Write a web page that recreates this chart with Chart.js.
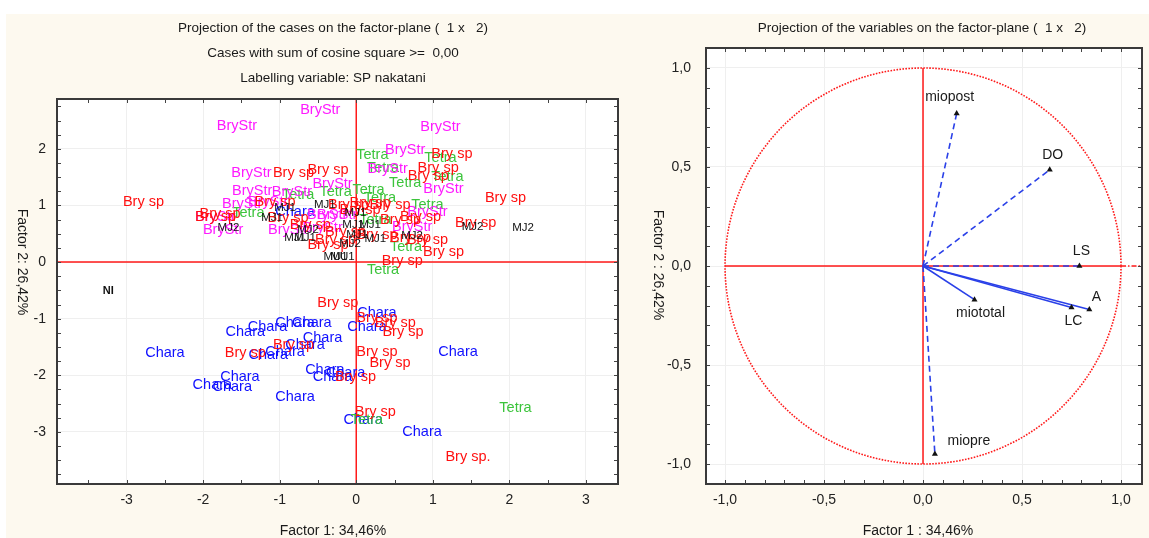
<!DOCTYPE html>
<html>
<head>
<meta charset="utf-8">
<script src="https://cdn.jsdelivr.net/npm/chart.js@4.4.1/dist/chart.umd.min.js"></script>
<style>
  html, body { margin: 0; padding: 0; background: #fff; }
  #bg { position: absolute; left: 6px; top: 14px; width: 1143px; height: 524px; background: #fdf9ef; }
  #cases { position: absolute; left: 0; top: 0; }
  #vars { position: absolute; left: 645px; top: 0; }
</style>
</head>
<body>
<div id="bg"></div>
<canvas id="cases" width="645" height="538"></canvas>
<canvas id="vars" width="504" height="538"></canvas>
<script>
// ---- case scores (Factor 1, Factor 2), one array per label ----
var brySp = [
  [-2.78, 1.06], [-0.82, 1.57], [-0.37, 1.63], [1.25, 1.91], [1.07, 1.66], [0.94, 1.52],
  [1.95, 1.13], [1.56, 0.69], [1.14, 0.18], [0.60, 0.02], [0.18, 1.04], [0.05, 0.92],
  [0.84, 0.80], [0.93, 0.39], [0.27, 0.48], [-1.84, 0.80], [-0.27, 0.39], [-0.89, 0.78],
  [-0.10, 1.01], [-1.78, 0.85], [0.58, 0.74], [0.44, 1.01], [-0.60, 0.65], [-0.14, 0.53],
  [0.71, 0.42], [-1.06, 1.06], [-0.37, 0.30],
  [-0.24, -0.72], [0.27, -0.99], [0.51, -1.08], [0.61, -1.24], [0.27, -1.59], [0.44, -1.78],
  [-0.01, -2.03], [0.25, -2.65], [-1.45, -1.61], [-0.82, -1.47]
];
var brySpDot = [[1.46, -3.45]];
var bryStr = [
  [-0.47, 2.69], [-1.56, 2.40], [1.10, 2.39], [0.64, 1.98], [-1.37, 1.57], [0.41, 1.64],
  [-1.36, 1.25], [1.14, 1.29], [-1.49, 1.02], [-1.84, 0.80], [-1.74, 0.57], [-0.84, 1.24],
  [-0.31, 1.38], [-0.89, 0.57], [-0.44, 0.60], [0.93, 0.88], [0.73, 0.62], [-1.15, 1.06],
  [-0.38, 0.83], [-0.25, 0.83]
];
var chara = [
  [-2.50, -1.61], [-1.45, -1.24], [-1.16, -1.15], [-0.80, -1.08], [-0.58, -1.08], [-0.44, -1.34],
  [-0.67, -1.47], [-1.15, -1.64], [-0.93, -1.59], [-1.52, -2.03], [-1.88, -2.17], [-1.62, -2.21],
  [-0.80, -2.39], [-0.41, -1.91], [-0.31, -2.03], [-0.14, -1.96], [0.27, -0.90], [0.14, -1.15],
  [1.33, -1.59], [0.09, -2.79], [0.86, -3.00], [-0.80, 0.88]
];
var tetra = [
  [2.08, -2.58], [0.14, -2.79], [0.35, -0.14], [0.21, 1.89], [1.10, 1.84], [0.35, 1.66],
  [1.19, 1.50], [0.64, 1.40], [0.16, 1.27], [0.31, 1.13], [0.93, 1.01], [0.65, 0.27],
  [0.25, 0.74], [-0.27, 1.24], [-1.41, 0.87], [-0.76, 1.18]
];
var mj1 = [
  [-0.93, 0.95], [-0.41, 1.01], [-0.01, 0.87], [-0.04, 0.65], [0.18, 0.65], [0.25, 0.41],
  [-0.80, 0.42], [-0.67, 0.42], [-1.10, 0.78], [0.01, 0.48]
];
var mj2 = [
  [-1.67, 0.60], [-0.63, 0.57], [-0.08, 0.32], [0.73, 0.46], [1.52, 0.62], [2.18, 0.60]
];
var mu1 = [[-0.27, 0.09], [-0.18, 0.09]];
var ni = [[-3.24, -0.51]];

// ---- variable loadings ----
var variables = ['miopost', 'DO', 'LS', 'miototal', 'LC', 'A', 'miopre'];
var loadX = [0.17, 0.64, 0.79, 0.26, 0.75, 0.84, 0.06];
var loadY = [0.77, 0.486, 0.0, -0.17, -0.21, -0.22, -0.95];
var dashedVar = [true, true, true, false, false, false, true];
var labelShift = [[-7, -16], [3, -15], [2, -15], [6, 13], [2, 14], [7, -12], [34, -13]];

var FONT = 'Liberation Sans, Arial, sans-serif';
Chart.defaults.font.family = FONT;
Chart.defaults.color = '#222';

var toXY = function(p) { return { x: p[0], y: p[1] }; };

// white plot area, inner ticks, frame and the text around the plot
var framePlugin = {
  id: 'frame',
  beforeDraw: function(chart) {
    var a = chart.chartArea, ctx = chart.ctx;
    ctx.save();
    ctx.fillStyle = '#fff';
    ctx.fillRect(a.left, a.top, a.right - a.left, a.bottom - a.top);
    ctx.restore();
  },
  afterDraw: function(chart, args, o) {
    var a = chart.chartArea, ctx = chart.ctx;
    var sx = chart.scales.x, sy = chart.scales.y;
    ctx.save();
    ctx.strokeStyle = '#444';
    ctx.lineWidth = 1;
    ctx.beginPath();
    var i, p;
    for (i = Math.ceil(sx.min / o.stepX - 1e-9); i * o.stepX <= sx.max + 1e-9; i++) {
      p = Math.round(sx.getPixelForValue(i * o.stepX)) + 0.5;
      ctx.moveTo(p, a.bottom); ctx.lineTo(p, a.bottom - 4);
      ctx.moveTo(p, a.top); ctx.lineTo(p, a.top + 4);
    }
    for (i = Math.ceil(sy.min / o.stepY - 1e-9); i * o.stepY <= sy.max + 1e-9; i++) {
      p = Math.round(sy.getPixelForValue(i * o.stepY)) + 0.5;
      ctx.moveTo(a.left, p); ctx.lineTo(a.left + 4, p);
      ctx.moveTo(a.right, p); ctx.lineTo(a.right - 4, p);
    }
    ctx.stroke();
    ctx.lineWidth = 2;
    ctx.strokeStyle = '#3a3a3a';
    ctx.strokeRect(a.left, a.top, a.right - a.left, a.bottom - a.top);

    ctx.fillStyle = '#1a1a1a';
    ctx.textAlign = 'center';
    ctx.textBaseline = 'middle';
    ctx.font = '13.5px ' + FONT;
    o.titles.forEach(function(t) { ctx.fillText(t[0], t[1], t[2]); });
    ctx.font = '14px ' + FONT;
    ctx.fillText(o.xTitle[0], o.xTitle[1], o.xTitle[2]);
    ctx.translate(o.yTitle[1], o.yTitle[2]);
    ctx.rotate(Math.PI / 2);
    ctx.fillText(o.yTitle[0], 0, 0);
    ctx.restore();
  }
};

// red zero lines of the case plot, and case labels drawn as text at the points
var casePlugin = {
  id: 'caseLabels',
  beforeDatasetsDraw: function(chart) {
    var a = chart.chartArea, ctx = chart.ctx;
    var x0 = chart.scales.x.getPixelForValue(0), y0 = chart.scales.y.getPixelForValue(0);
    ctx.save();
    ctx.strokeStyle = '#ff1a1a';
    ctx.lineWidth = 1.5;
    ctx.beginPath();
    ctx.moveTo(x0, a.top); ctx.lineTo(x0, a.bottom);
    ctx.moveTo(a.left, y0); ctx.lineTo(a.right, y0);
    ctx.stroke();
    ctx.restore();
  },
  afterDatasetsDraw: function(chart) {
    var a = chart.chartArea, ctx = chart.ctx;
    ctx.save();
    ctx.beginPath();
    ctx.rect(a.left, a.top, a.right - a.left, a.bottom - a.top);
    ctx.clip();
    ctx.textAlign = 'center';
    ctx.textBaseline = 'middle';
    chart.data.datasets.forEach(function(ds, i) {
      ctx.font = ds.textFont;
      ctx.fillStyle = ds.borderColor;
      chart.getDatasetMeta(i).data.forEach(function(el) {
        ctx.fillText(ds.label, el.x, el.y);
      });
    });
    ctx.restore();
  }
};

var big = '14.5px ' + FONT, small = '11.5px ' + FONT;
var caseSets = [
  { label: 'Chara', pts: chara, color: '#1010ff', font: big },
  { label: 'Tetra', pts: tetra, color: '#3cc43c', font: big },
  { label: 'BryStr', pts: bryStr, color: '#ff19ff', font: big },
  { label: 'Bry sp', pts: brySp, color: '#ff1010', font: big },
  { label: 'Bry sp.', pts: brySpDot, color: '#ff1010', font: big },
  { label: 'MJ1', pts: mj1, color: '#111', font: small },
  { label: 'MJ2', pts: mj2, color: '#111', font: small },
  { label: 'MU1', pts: mu1, color: '#111', font: small },
  { label: 'NI', pts: ni, color: '#111', font: 'bold 11px ' + FONT }
];

new Chart(document.getElementById('cases'), {
  type: 'scatter',
  data: {
    datasets: caseSets.map(function(s) {
      return { label: s.label, data: s.pts.map(toXY), borderColor: s.color, textFont: s.font, pointRadius: 0 };
    })
  },
  options: {
    responsive: false,
    animation: false,
    devicePixelRatio: 1,
    layout: { padding: { left: 0, right: 27, top: 99, bottom: 0 } },
    plugins: {
      legend: { display: false },
      tooltip: { enabled: false },
      frame: {
        stepX: 0.5, stepY: 0.25,
        titles: [
          ['Projection of the cases on the factor-plane (  1 x   2)', 333, 28],
          ['Cases with sum of cosine square >=  0,00', 333, 53],
          ['Labelling variable: SP nakatani', 333, 78]
        ],
        xTitle: ['Factor 1: 34,46%', 333, 531],
        yTitle: ['Factor 2: 26,42%', 22, 262]
      }
    },
    scales: {
      x: {
        type: 'linear', min: -3.91, max: 3.42,
        ticks: { stepSize: 1, includeBounds: false, padding: 8, font: { size: 14 }, color: '#222' },
        grid: { color: '#efefef', drawTicks: false },
        border: { display: false },
        afterFit: function(s) { s.height = 54; }
      },
      y: {
        type: 'linear', min: -3.92, max: 2.88,
        ticks: { stepSize: 1, includeBounds: false, padding: 11, font: { size: 14 }, color: '#222' },
        grid: { color: '#efefef', drawTicks: false },
        border: { display: false },
        afterFit: function(s) { s.width = 57; }
      }
    }
  },
  plugins: [framePlugin, casePlugin]
});

// unit circle, red axes and variable names
var varPlugin = {
  id: 'varDecor',
  beforeDatasetsDraw: function(chart) {
    var a = chart.chartArea, ctx = chart.ctx, sx = chart.scales.x, sy = chart.scales.y;
    var x0 = sx.getPixelForValue(0), y0 = sy.getPixelForValue(0);
    var r = sx.getPixelForValue(1) - x0;
    ctx.save();
    ctx.strokeStyle = '#ff1a1a';
    ctx.lineWidth = 1.6;
    ctx.setLineDash([1.6, 1.4]);
    ctx.beginPath();
    ctx.arc(x0, y0, r, 0, Math.PI * 2);
    ctx.stroke();
    ctx.setLineDash([]);
    ctx.lineWidth = 1.5;
    ctx.beginPath();
    ctx.moveTo(x0, sy.getPixelForValue(1)); ctx.lineTo(x0, sy.getPixelForValue(-1));
    ctx.moveTo(sx.getPixelForValue(-1), y0); ctx.lineTo(sx.getPixelForValue(1), y0);
    ctx.stroke();
    ctx.setLineDash([5, 2, 1.5, 2]);
    ctx.beginPath();
    ctx.moveTo(sx.getPixelForValue(1), y0); ctx.lineTo(a.right, y0);
    ctx.stroke();
    ctx.restore();
  },
  afterDatasetsDraw: function(chart) {
    var ctx = chart.ctx;
    ctx.save();
    ctx.font = '14px ' + FONT;
    ctx.fillStyle = '#1a1a1a';
    ctx.textAlign = 'center';
    ctx.textBaseline = 'middle';
    chart.data.datasets.forEach(function(ds, i) {
      var el = chart.getDatasetMeta(i).data[1];
      ctx.fillText(ds.label, el.x + labelShift[i][0], el.y + labelShift[i][1]);
    });
    ctx.restore();
  }
};

new Chart(document.getElementById('vars'), {
  type: 'scatter',
  data: {
    datasets: variables.map(function(v, i) {
      return {
        label: v,
        data: [{ x: 0, y: 0 }, { x: loadX[i], y: loadY[i] }],
        showLine: true,
        borderColor: '#2a40e8',
        borderWidth: 1.6,
        borderDash: dashedVar[i] ? [6, 4] : [],
        pointStyle: 'triangle',
        pointRadius: [0, 3.5],
        pointBackgroundColor: '#111',
        pointBorderColor: '#111',
        pointBorderWidth: 0
      };
    })
  },
  options: {
    responsive: false,
    animation: false,
    devicePixelRatio: 1,
    layout: { padding: { left: 0, right: 7, top: 48, bottom: 0 } },
    plugins: {
      legend: { display: false },
      tooltip: { enabled: false },
      frame: {
        stepX: 0.1, stepY: 0.1,
        titles: [['Projection of the variables on the factor-plane (  1 x   2)', 277, 28]],
        xTitle: ['Factor 1 : 34,46%', 273, 531],
        yTitle: ['Factor 2 : 26,42%', 13, 265]
      }
    },
    scales: {
      x: {
        type: 'linear', min: -1.096, max: 1.106,
        ticks: { stepSize: 0.5, includeBounds: false, padding: 8, font: { size: 14 }, color: '#222',
                 callback: function(v) { return v.toFixed(1).replace('.', ','); } },
        grid: { color: '#efefef', drawTicks: false },
        border: { display: false },
        afterFit: function(s) { s.height = 54; }
      },
      y: {
        type: 'linear', min: -1.101, max: 1.101,
        ticks: { stepSize: 0.5, includeBounds: false, padding: 15, font: { size: 14 }, color: '#222',
                 callback: function(v) { return v.toFixed(1).replace('.', ','); } },
        grid: { color: '#efefef', drawTicks: false },
        border: { display: false },
        afterFit: function(s) { s.width = 61; }
      }
    }
  },
  plugins: [framePlugin, varPlugin]
});
</script>
</body>
</html>
